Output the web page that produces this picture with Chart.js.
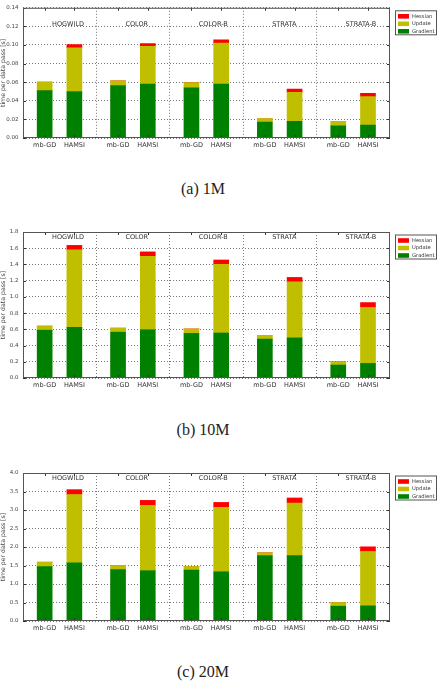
<!DOCTYPE html>
<html>
<head>
<meta charset="utf-8">
<script src="https://cdn.jsdelivr.net/npm/chart.js@4/dist/chart.umd.min.js"></script>
<style>
  body { margin: 0; background: #fff; width: 445px; height: 691px; position: relative; overflow: hidden; }
  canvas { position: absolute; left: 0; }
  .caption { position: absolute; left: 0; width: 406px; text-align: center; line-height: 18px;
             font-family: "Liberation Serif", serif; font-size: 16px; color: #222; }
</style>
</head>
<body>
<canvas id="c1" width="445" height="152" style="top:0px"></canvas>
<div class="caption" style="top:180px">(a) 1M</div>
<canvas id="c2" width="445" height="172" style="top:220px"></canvas>
<div class="caption" style="top:421px">(b) 10M</div>
<canvas id="c3" width="445" height="174" style="top:461px"></canvas>
<div class="caption" style="top:663px">(c) 20M</div>

<script>
// categories
const groups = ['HOGWILD', 'COLOR', 'COLOR-B', 'STRATA', 'STRATA-B'];
const methods = ['mb-GD', 'HAMSI'];
const seriesNames = ['Gradient', 'Update', 'Hessian'];

// 1M  (order: HOGWILD mb-GD, HOGWILD HAMSI, COLOR mb-GD, ...)
const grad1M = [0.051, 0.050, 0.0565, 0.058, 0.054, 0.058, 0.017, 0.018, 0.013, 0.014];
const upd1M  = [0.009, 0.047, 0.005, 0.0405, 0.0055, 0.044, 0.004, 0.031, 0.0045, 0.0305];
const hess1M = [0, 0.0035, 0, 0.003, 0, 0.0035, 0, 0.0035, 0, 0.0035];

// 10M
const grad10M = [0.59, 0.625, 0.565, 0.595, 0.55, 0.555, 0.48, 0.495, 0.16, 0.18];
const upd10M  = [0.05, 0.955, 0.05, 0.905, 0.055, 0.845, 0.04, 0.69, 0.04, 0.69];
const hess10M = [0, 0.055, 0, 0.055, 0, 0.055, 0, 0.055, 0, 0.06];

// 20M
const grad20M = [1.47, 1.57, 1.39, 1.36, 1.375, 1.33, 1.77, 1.765, 0.40, 0.41];
const upd20M  = [0.12, 1.85, 0.11, 1.765, 0.10, 1.74, 0.075, 1.425, 0.10, 1.47];
const hess20M = [0, 0.13, 0, 0.135, 0, 0.135, 0, 0.135, 0, 0.125];

// y axis ticks
const yMax1M = 0.14, yStep1M = 0.02;
const yMax10M = 1.8, yStep10M = 0.2;
const yMax20M = 4.0, yStep20M = 0.5;

const colors = ['#008000', '#bfbf00', '#ff0000'];
const barOffsets = [0.295, 0.7];   // bar position inside a group (group width = 1)
const FONT = '"DejaVu Sans", sans-serif';

Chart.defaults.font.family = FONT;
Chart.defaults.color = '#333';

// x positions of bars
const barX = [];
groups.forEach((g, gi) => barOffsets.forEach(o => barX.push(gi + o)));

const xTickValues = barX.concat([1, 2, 3, 4]);

const framePlugin = {
  id: 'frame',
  afterDraw(chart, args, opts) {
    const { ctx, chartArea: a, scales } = chart;
    ctx.save();
    ctx.strokeStyle = '#333';
    ctx.lineWidth = 1;
    const line = (x1, y1, x2, y2) => { ctx.beginPath(); ctx.moveTo(x1, y1); ctx.lineTo(x2, y2); ctx.stroke(); };

    // inward tick marks like matplotlib classic
    barX.forEach(v => {
      const px = Math.round(scales.x.getPixelForValue(v)) + 0.5;
      line(px, a.top, px, a.top + 3);
      line(px, a.bottom, px, a.bottom - 3);
    });
    scales.y.ticks.forEach(t => {
      const py = Math.round(scales.y.getPixelForValue(t.value)) + 0.5;
      line(a.left, py, a.left + 3, py);
      line(a.right, py, a.right - 3, py);
    });

    // frame
    ctx.strokeStyle = '#555';
    ctx.strokeRect(a.left + 0.5, a.top + 0.5, a.width - 1, a.height - 1);

    // group labels
    ctx.font = '6.5px ' + FONT;
    ctx.fillStyle = '#333';
    ctx.textAlign = 'left';
    ctx.textBaseline = 'middle';
    groups.forEach((g, i) => {
      ctx.fillText(g, scales.x.getPixelForValue(i + 0.395), a.top + opts.labelOffset);
    });

    // legend (Hessian, Update, Gradient)
    const lx = a.right + 5, ly = a.top + 2.5;
    ctx.fillStyle = '#fff';
    ctx.fillRect(lx, ly, 42, 25);
    ctx.strokeStyle = '#555';
    ctx.strokeRect(lx + 0.5, ly + 0.5, 41, 24);
    ctx.font = '5.2px ' + FONT;
    const ds = chart.data.datasets.slice().reverse();
    ds.forEach((d, i) => {
      const ry = ly + 6 + i * 7.5;
      ctx.fillStyle = d.backgroundColor;
      ctx.fillRect(lx + 3, ry - 2.3, 11, 4.6);
      ctx.fillStyle = '#333';
      ctx.fillText(d.label, lx + 17, ry);
    });
    ctx.restore();
  }
};

function makeChart(id, grad, upd, hess, yMax, yStep, decimals, padTop, labelOffset) {
  const values = [grad, upd, hess];
  new Chart(document.getElementById(id), {
    type: 'bar',
    data: {
      datasets: seriesNames.map((name, si) => ({
        label: name,
        data: values[si].map((v, i) => ({ x: barX[i], y: v })),
        backgroundColor: colors[si],
        borderWidth: 0,
        barThickness: 15
      }))
    },
    options: {
      responsive: false,
      animation: false,
      layout: { padding: { top: padTop, right: 55, left: 0, bottom: 0 } },
      plugins: {
        legend: { display: false },
        tooltip: { enabled: false },
        frame: { labelOffset: labelOffset }
      },
      scales: {
        x: {
          type: 'linear',
          stacked: true,
          offset: false,
          min: 0,
          max: 5,
          afterBuildTicks: scale => { scale.ticks = xTickValues.map(v => ({ value: v })); },
          afterFit: scale => { scale.height = 14; },
          ticks: {
            autoSkip: false,
            maxRotation: 0,
            padding: 3,
            font: { size: 6.5 },
            callback: value => {
              const i = barX.indexOf(value);
              return i >= 0 ? methods[i % 2] : '';
            }
          },
          grid: {
            offset: false,
            drawTicks: false,
            lineWidth: 0.8,
            color: c => (c.tick && Number.isInteger(c.tick.value)) ? '#555' : 'rgba(0,0,0,0)'
          },
          border: { display: false, dash: [1, 2] }
        },
        y: {
          stacked: true,
          min: 0,
          max: yMax,
          afterFit: scale => { scale.width = 23; },
          ticks: {
            stepSize: yStep,
            padding: 4.5,
            font: { size: 5.5 },
            color: '#444',
            callback: v => Number(v).toFixed(decimals)
          },
          grid: { drawTicks: false, lineWidth: 0.8, color: '#555' },
          border: { display: false, dash: [1, 2] },
          title: {
            display: true,
            text: 'time per data pass [s]',
            font: { size: 6.2 },
            color: '#444',
            padding: { top: -0.8, bottom: 0 }
          }
        }
      }
    },
    plugins: [framePlugin]
  });
}

makeChart('c1', grad1M, upd1M, hess1M, yMax1M, yStep1M, 2, 5, 17);
makeChart('c2', grad10M, upd10M, hess10M, yMax10M, yStep10M, 1, 12, 5);
makeChart('c3', grad20M, upd20M, hess20M, yMax20M, yStep20M, 1, 12, 5.5);
</script>
</body>
</html>
